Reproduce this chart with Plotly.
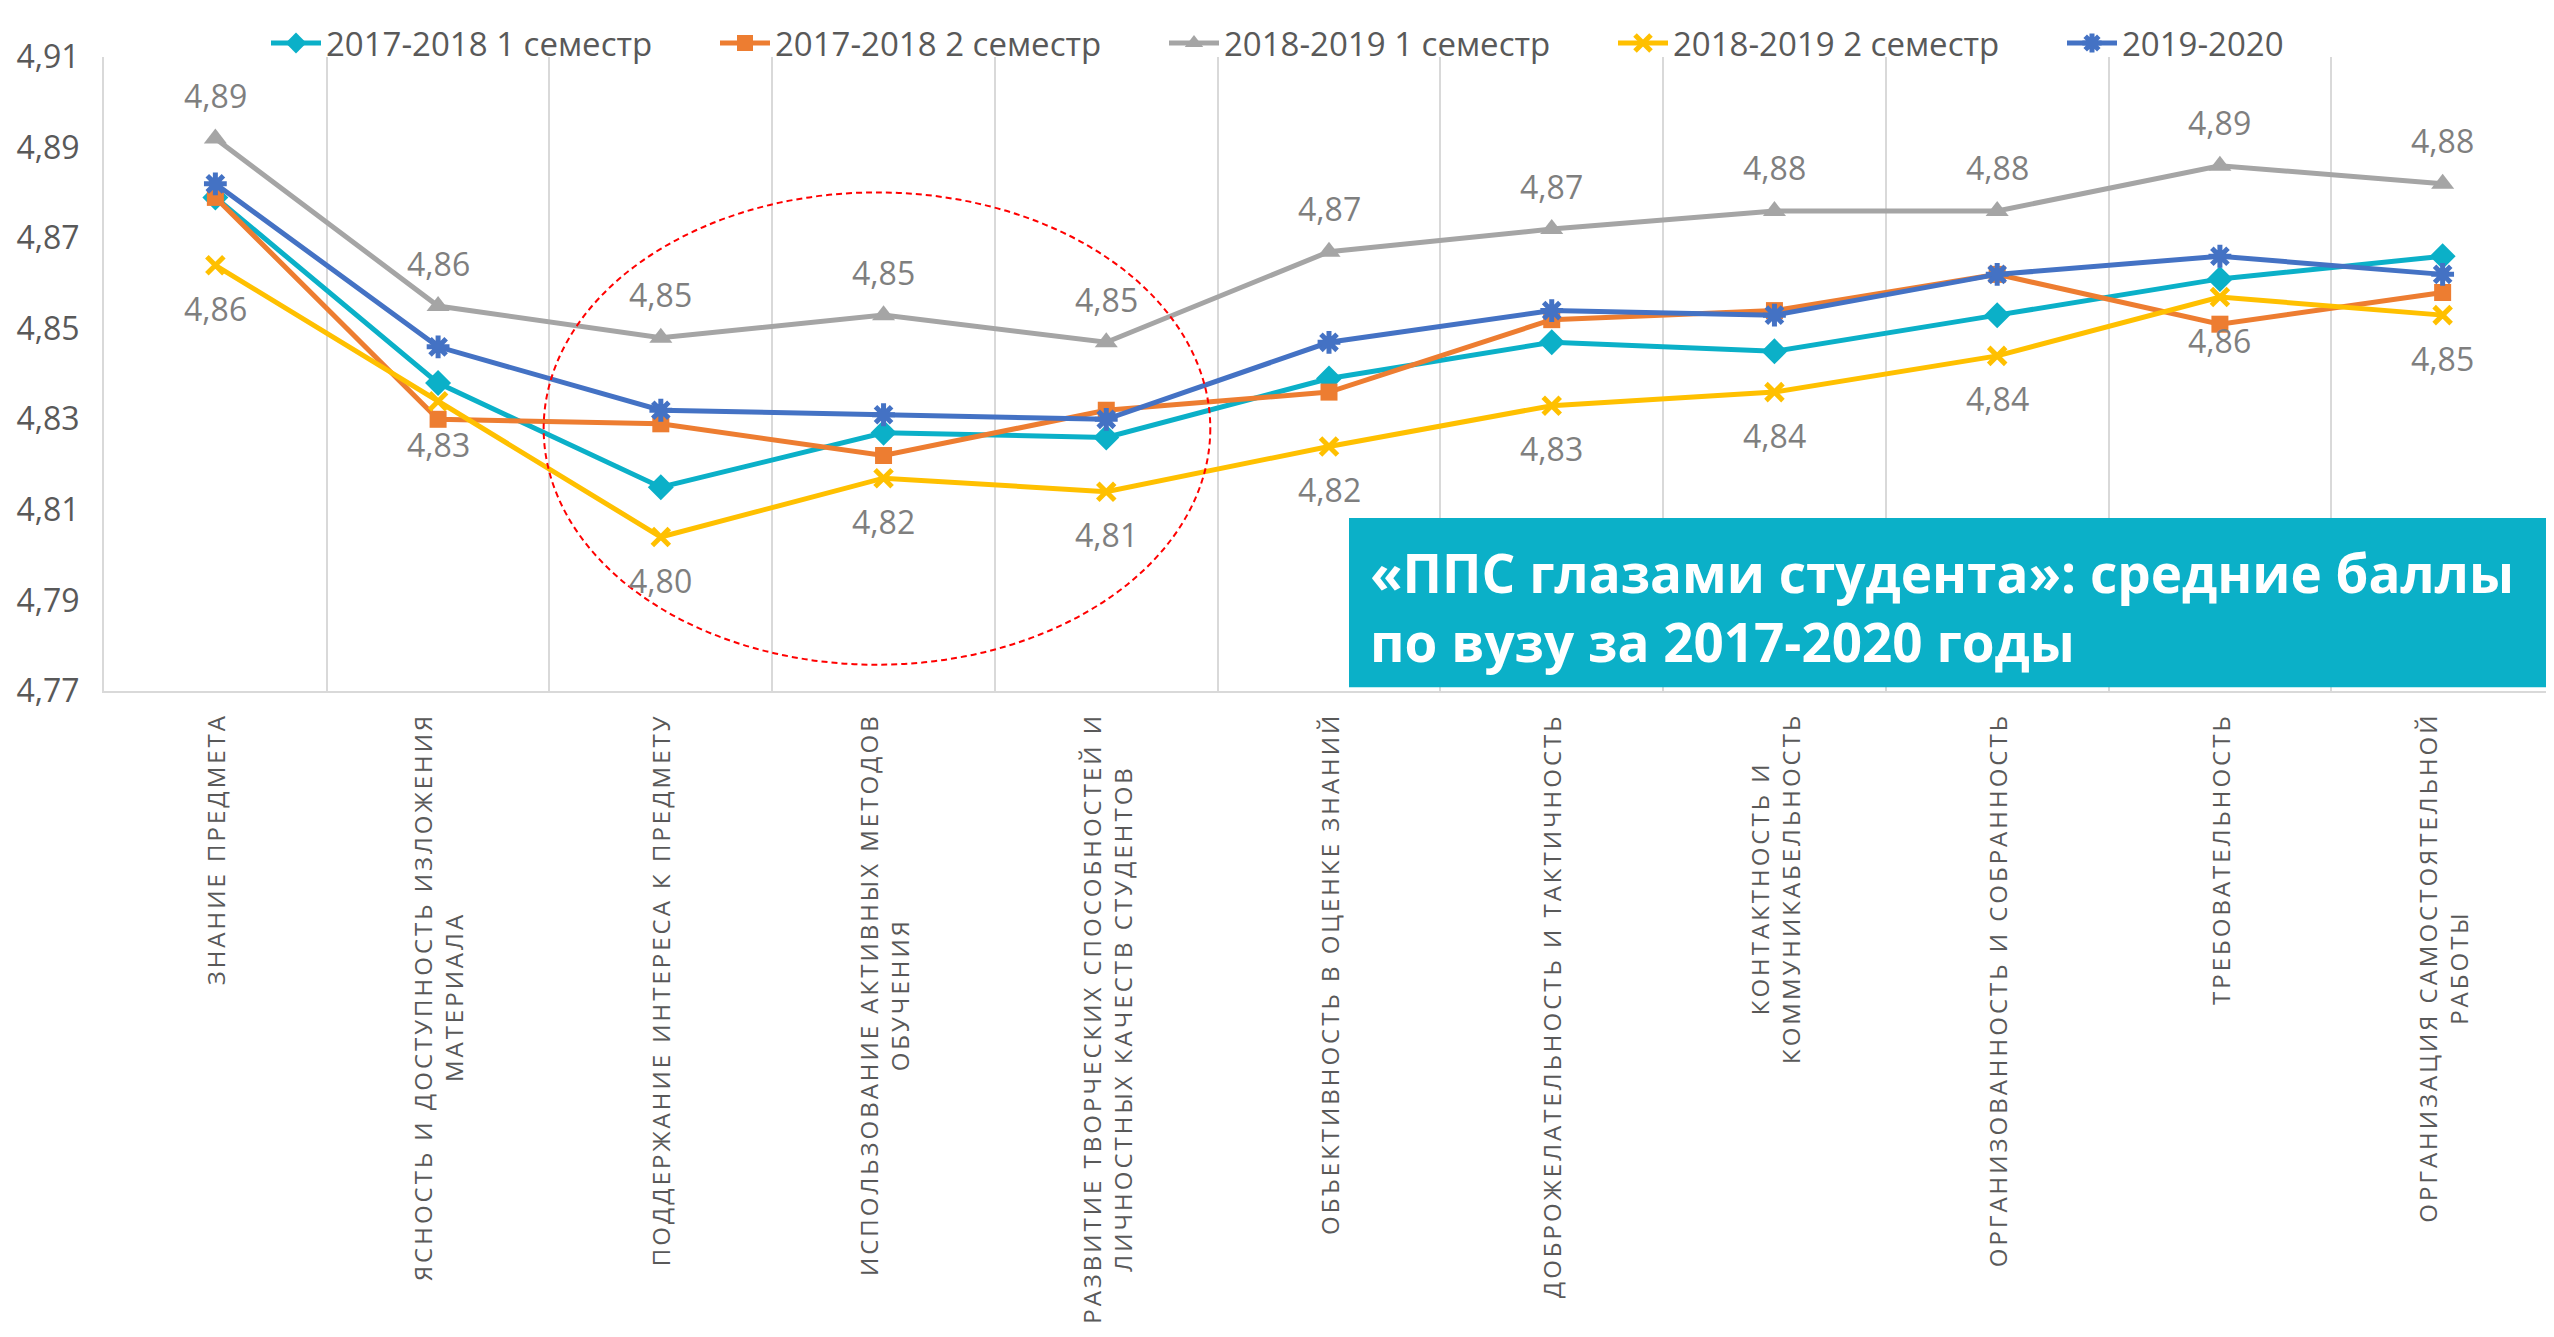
import plotly.graph_objects as go

categories = [
    "ЗНАНИЕ ПРЕДМЕТА",
    "ЯСНОСТЬ И ДОСТУПНОСТЬ ИЗЛОЖЕНИЯ<br>МАТЕРИАЛА",
    "ПОДДЕРЖАНИЕ ИНТЕРЕСА К ПРЕДМЕТУ",
    "ИСПОЛЬЗОВАНИЕ АКТИВНЫХ МЕТОДОВ<br>ОБУЧЕНИЯ",
    "РАЗВИТИЕ ТВОРЧЕСКИХ СПОСОБНОСТЕЙ И<br>ЛИЧНОСТНЫХ КАЧЕСТВ СТУДЕНТОВ",
    "ОБЪЕКТИВНОСТЬ В ОЦЕНКЕ ЗНАНИЙ",
    "ДОБРОЖЕЛАТЕЛЬНОСТЬ И ТАКТИЧНОСТЬ",
    "КОНТАКТНОСТЬ И<br>КОММУНИКАБЕЛЬНОСТЬ",
    "ОРГАНИЗОВАННОСТЬ И СОБРАННОСТЬ",
    "ТРЕБОВАТЕЛЬНОСТЬ",
    "ОРГАНИЗАЦИЯ САМОСТОЯТЕЛЬНОЙ<br>РАБОТЫ",
]

s2017_1 = [4.879, 4.838, 4.815, 4.827, 4.826, 4.839, 4.847, 4.845, 4.853, 4.861, 4.866]
s2017_2 = [4.879, 4.830, 4.829, 4.822, 4.832, 4.836, 4.852, 4.854, 4.862, 4.851, 4.858]
s2018_1 = [4.892, 4.855, 4.848, 4.853, 4.847, 4.867, 4.872, 4.876, 4.876, 4.886, 4.882]
s2018_2 = [4.864, 4.834, 4.804, 4.817, 4.814, 4.824, 4.833, 4.836, 4.844, 4.857, 4.853]
s2019 = [4.882, 4.846, 4.832, 4.831, 4.830, 4.847, 4.854, 4.853, 4.862, 4.866, 4.862]

series_names = ["2017-2018 1 семестр", "2017-2018 2 семестр", "2018-2019 1 семестр",
                "2018-2019 2 семестр", "2019-2020"]

y_ticks = [4.77, 4.79, 4.81, 4.83, 4.85, 4.87, 4.89, 4.91]

title_text = "«ППС глазами студента»: средние баллы<br>по вузу за 2017-2020 годы"

# page body has an 8px margin, so the figure is drawn 8px right/down
W, H = 2546, 1321
ML, MR, MT, MB = 96, 0, 49, 638
PW = W - ML - MR
FONT = "Open Sans, Noto Sans, Liberation Sans, sans-serif"

fig = go.Figure()

styles = [
    dict(color="#0BB0C8", symbol="diamond", size=20, lw=0),
    dict(color="#ED7D31", symbol="square", size=17, lw=0),
    dict(color="#A5A5A5", symbol="triangle-up", size=20, lw=0),
    dict(color="#FFC000", symbol="x-thin-open", size=17, lw=5),
    dict(color="#4472C4", symbol="asterisk-open", size=19, lw=5),
]
all_series = [s2017_1, s2017_2, s2018_1, s2018_2, s2019]

for name, vals, st in zip(series_names, all_series, styles):
    fig.add_trace(go.Scatter(
        x=categories, y=vals, name=name, mode="lines+markers",
        line=dict(color=st["color"], width=5),
        marker=dict(symbol=st["symbol"], size=st["size"], color=st["color"],
                    line=dict(color=st["color"], width=st["lw"])),
    ))

def fmt(v):
    return f"{v:.2f}".replace(".", ",")

annotations = []
# data labels: gray series above, yellow series below
for cat, v in zip(categories, s2018_1):
    annotations.append(dict(x=cat, y=v, xref="x", yref="y", text=fmt(v), showarrow=False,
                            yshift=43, font=dict(family=FONT, size=32, color="#7F7F7F")))
for cat, v in zip(categories, s2018_2):
    annotations.append(dict(x=cat, y=v, xref="x", yref="y", text=fmt(v), showarrow=False,
                            yshift=-43, font=dict(family=FONT, size=32, color="#7F7F7F")))

# category labels (rotated, letter-spaced)
SP = '<span style="letter-spacing:3px">'
for cat in categories:
    annotations.append(dict(
        x=cat, y=0, xref="x", yref="paper", yanchor="top", xanchor="center",
        yshift=-20, textangle=-90, align="center", showarrow=False,
        text=SP + cat.replace("<br>", "</span><br>" + SP) + "</span>",
        font=dict(family=FONT, size=24, color="#595959"),
    ))

# title box text
annotations.append(dict(
    x=(1360 - ML) / PW, y=0.132, xref="paper", yref="paper",
    xanchor="left", yanchor="middle", align="left", showarrow=False,
    text="<b>" + title_text.replace("<br>", "</b><br><b>") + "</b>",
    font=dict(family=FONT, size=53, color="white"),
))

shapes = [
    dict(type="circle", xref="x", yref="y", x0=1.474, x1=4.467, y0=4.7758, y1=4.8801,
         line=dict(color="#FF0000", width=2, dash="6px,4px"), layer="above"),
    dict(type="rect", xref="paper", yref="paper",
         x0=(1341 - ML) / PW, x1=1.0, y0=0.006, y1=0.273,
         fillcolor="#0BB0C8", line=dict(width=0), layer="above"),
]

fig.update_layout(
    width=W, height=H,
    margin=dict(l=ML, r=MR, t=MT, b=MB, autoexpand=False),
    paper_bgcolor="white", plot_bgcolor="white",
    separators=", ",
    font=dict(family=FONT, color="#595959"),
    showlegend=True,
    legend=dict(orientation="h", x=(258 - ML) / PW, xanchor="left",
                y=1.022, yanchor="middle", font=dict(family=FONT, size=33, color="#595959"),
                itemwidth=50, entrywidth=384, bgcolor="rgba(0,0,0,0)"),
    annotations=annotations,
    shapes=shapes,
)

fig.update_xaxes(
    type="category", showticklabels=False, tickson="boundaries",
    showgrid=True, gridcolor="#D9D9D9", gridwidth=2,
    showline=True, linecolor="#D9D9D9", linewidth=2, ticks="",
    range=[-0.5, len(categories) - 0.5], automargin=False,
)
fig.update_yaxes(
    range=[4.77, 4.91], tickvals=y_ticks, tickformat=".2f",
    showgrid=False, zeroline=False, showline=True, linecolor="#D9D9D9", linewidth=2,
    tickfont=dict(family=FONT, size=32, color="#595959"), ticklabelstandoff=16,
    automargin=False,
)

fig.write_html("out.html")
